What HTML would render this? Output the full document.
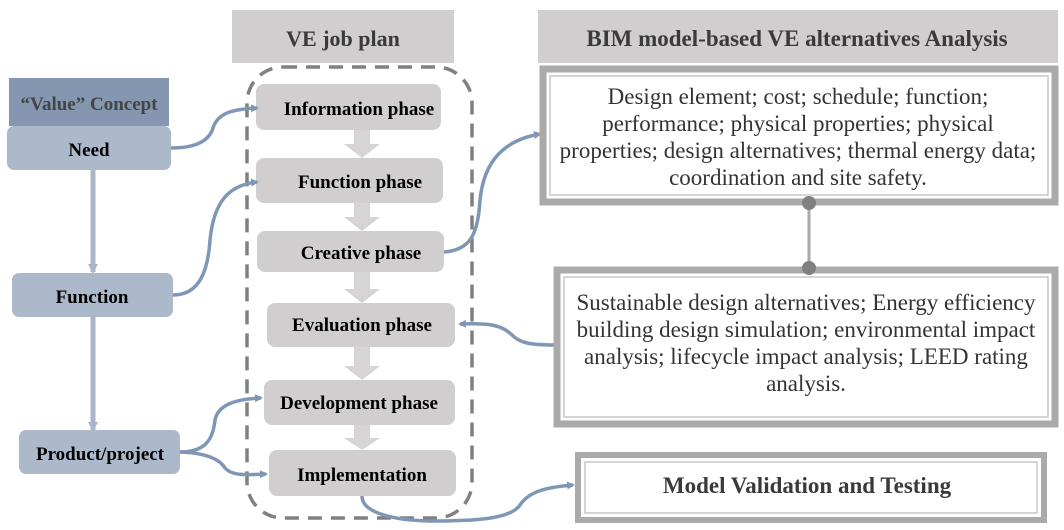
<!DOCTYPE html>
<html><head><meta charset="utf-8"><style>
body{margin:0;background:#fff}
svg{display:block;font-family:"Liberation Serif","DejaVu Serif",serif}
.b{font-weight:bold;font-size:19px;fill:#000}
.t{font-size:23px;fill:#333}
</style></head><body>
<svg width="1064" height="530" viewBox="0 0 1064 530">
<defs>
<marker id="a" markerWidth="8" markerHeight="8" refX="6" refY="4" orient="auto" markerUnits="userSpaceOnUse">
<path d="M0,0 L8,4 L0,8 Z" fill="#7f97b5"/></marker>
<marker id="a2" markerWidth="10" markerHeight="10" refX="8" refY="5" orient="auto" markerUnits="userSpaceOnUse">
<path d="M0,0 L10,5 L0,10 Z" fill="#a9b6c9"/></marker>
</defs>
<rect x="232" y="10" width="222" height="53" fill="#d0cece"/>
<text x="343" y="46" text-anchor="middle" font-weight="bold" font-size="22" fill="#3a3a3a">VE job plan</text>
<rect x="538" y="10" width="520" height="53" fill="#d0cece"/>
<text x="797" y="46" text-anchor="middle" font-weight="bold" font-size="23" fill="#3a3a3a">BIM model-based VE alternatives Analysis</text>
<rect x="9" y="78" width="160" height="48" fill="#8496b0"/>
<text x="89" y="110" text-anchor="middle" font-weight="bold" font-size="19" fill="#444">“Value” Concept</text>
<line x1="93" y1="170" x2="93" y2="272" stroke="#a9b6c9" stroke-width="5" marker-end="url(#a2)"/>
<line x1="93" y1="317" x2="93" y2="430" stroke="#a9b6c9" stroke-width="5" marker-end="url(#a2)"/>
<rect x="7" y="126" width="164" height="44" rx="7" fill="#acb9ca"/>
<text x="89" y="156" text-anchor="middle" class="b">Need</text>
<rect x="12" y="273" width="161" height="44" rx="7" fill="#acb9ca"/>
<text x="92" y="303" text-anchor="middle" class="b">Function</text>
<rect x="19" y="430" width="161" height="44" rx="7" fill="#acb9ca"/>
<text x="100" y="460" text-anchor="middle" class="b">Product/project</text>
<rect x="247" y="67" width="225" height="451" rx="36" fill="none" stroke="#808080" stroke-width="3.5" stroke-dasharray="14,9"/>
<g fill="#d6d4d4">
<path d="M354,130 h16 v14 h10 l-18,14 -18,-14 h10z"/>
<path d="M354,203 h16 v14 h10 l-18,14 -18,-14 h10z"/>
<path d="M354,272 h16 v17 h10 l-18,14 -18,-14 h10z"/>
<path d="M354,347 h16 v19 h10 l-18,14 -18,-14 h10z"/>
<path d="M354,425 h16 v13 h10 l-18,12 -18,-12 h10z"/>
</g>
<g fill="#d0cece">
<rect x="256" y="84" width="185" height="46" rx="8"/>
<rect x="256" y="158" width="187" height="45" rx="8"/>
<rect x="257" y="231" width="187" height="41" rx="8"/>
<rect x="267" y="303" width="188" height="44" rx="8"/>
<rect x="264" y="380" width="191" height="45" rx="8"/>
<rect x="269" y="450" width="187" height="46" rx="8"/>
</g>
<text x="359" y="115" text-anchor="middle" class="b">Information phase</text>
<text x="360" y="188" text-anchor="middle" class="b">Function phase</text>
<text x="361" y="259" text-anchor="middle" class="b">Creative phase</text>
<text x="362" y="331" text-anchor="middle" class="b">Evaluation phase</text>
<text x="359" y="409" text-anchor="middle" class="b">Development phase</text>
<text x="362" y="481" text-anchor="middle" class="b">Implementation</text>
<g fill="none" stroke="#7f97b5" stroke-width="3.5" marker-end="url(#a)">
<path d="M171,148 C200,148 210,138 213,128 C218,112 235,109 257,108"/>
<path d="M173,295 C200,295 208,270 210,240 C214,200 230,185 257,182"/>
<path d="M444,252 C470,250 478,235 480,200 C484,160 505,140 540,134"/>
<path d="M555,345 C530,345 520,343 512,335 C502,325 490,323 460,324"/>
<path d="M180,452 C205,452 213,440 215,420 C218,405 235,399 261,398"/>
<path d="M180,452 C208,453 220,460 225,468 C232,476 245,475 266,474"/>
<path d="M362,496 C362,512 390,520 430,521 C470,521 510,520 520,505 C530,490 550,487 573,485"/>
</g>
<rect x="543" y="69" width="512" height="133" fill="#fff" stroke="#aca9a9" stroke-width="7"/>
<rect x="550" y="76" width="498" height="119" fill="none" stroke="#c8c6c6" stroke-width="1.5"/>
<text class="t" text-anchor="middle"><tspan x="798" y="104">Design element; cost; schedule; function;</tspan><tspan x="798" y="131">performance; physical properties; physical</tspan><tspan x="798" y="158">properties; design alternatives; thermal energy data;</tspan><tspan x="798" y="185">coordination and site safety.</tspan></text>
<rect x="557" y="270" width="498" height="154" fill="#fff" stroke="#aca9a9" stroke-width="7"/>
<rect x="564" y="277" width="484" height="140" fill="none" stroke="#c8c6c6" stroke-width="1.5"/>
<text class="t" text-anchor="middle"><tspan x="806" y="310">Sustainable design alternatives; Energy efficiency</tspan><tspan x="806" y="337">building design simulation; environmental impact</tspan><tspan x="806" y="364">analysis; lifecycle impact analysis; LEED rating</tspan><tspan x="806" y="391">analysis.</tspan></text>
<line x1="809" y1="203" x2="809" y2="268" stroke="#aca9a9" stroke-width="3"/>
<circle cx="809" cy="203" r="7" fill="#808080"/>
<circle cx="809" cy="268" r="7" fill="#808080"/>
<rect x="578" y="455" width="466" height="65" fill="#fff" stroke="#aca9a9" stroke-width="6"/>
<rect x="585" y="462" width="452" height="51" fill="none" stroke="#c8c6c6" stroke-width="1.5"/>
<text x="807" y="493" text-anchor="middle" font-weight="bold" font-size="23" fill="#3a3a3a">Model Validation and Testing</text>
</svg>
</body></html>
